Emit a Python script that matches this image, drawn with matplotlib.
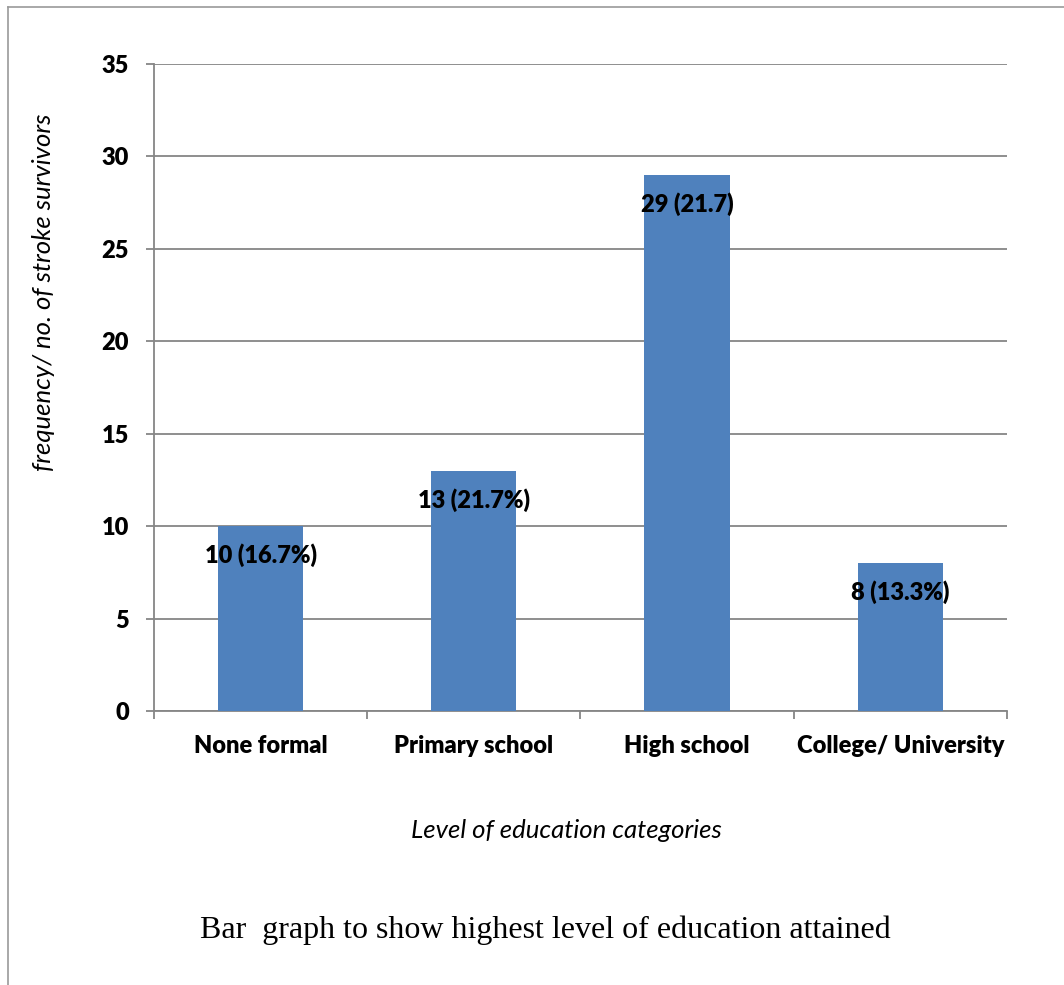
import matplotlib
matplotlib.use("Agg")
import matplotlib.pyplot as plt
from matplotlib.lines import Line2D

categories = ["None formal", "Primary school", "High school", "College/ University"]
counts = [10, 13, 29, 8]
bar_labels = ["10 (16.7%)", "13 (21.7%)", "29 (21.7)", "8 (13.3%)"]
yticks = [0, 5, 10, 15, 20, 25, 30, 35]

plt.rcParams['font.family'] = ['Lato', 'DejaVu Sans']

fig = plt.figure(figsize=(10.64, 9.85), dpi=100)
ax = fig.add_axes([0.1447, 0.2782, 0.8017, 0.6568])

x = range(len(categories))
ax.bar(x, counts, width=0.4, color='#4F81BD', zorder=3)

for xi, v, lab in zip(x, counts, bar_labels):
    ax.annotate(lab, (xi, v), xytext=(0, -21), textcoords='offset points',
                ha='center', va='center', fontsize=17, fontweight='heavy', zorder=4)

ax.set_xlim(-0.5, 3.5)
ax.set_ylim(0, 35)
ax.set_yticks(yticks)
ax.set_yticklabels([str(t) for t in yticks], fontsize=17, fontweight='heavy')
ax.set_xticks(list(x))
ax.set_xticklabels(categories, fontsize=17, fontweight='heavy')
ax.set_xticks([-0.5, 0.5, 1.5, 2.5, 3.5], minor=True)
ax.tick_params(axis='x', which='major', length=0, pad=17)
ax.tick_params(axis='x', which='minor', length=6, color='#868686', width=1.3)
ax.tick_params(axis='y', length=6, color='#868686', width=1.3, pad=12)

ax.yaxis.grid(True, color='#868686', lw=1.3, zorder=0)
for s in ['top', 'right']:
    ax.spines[s].set_visible(False)
for s in ['left', 'bottom']:
    ax.spines[s].set_color('#868686')
    ax.spines[s].set_linewidth(1.3)

fig.text(566 / 1064, 1 - 831 / 985, "Level of education categories", ha='center', va='center',
         fontsize=18.5, style='italic')
fig.text(44 / 1064, 1 - 292 / 985, "frequency/ no. of stroke survivors", ha='center', va='center',
         rotation=90, fontsize=18.5, style='italic')
fig.text(545 / 1064, 1 - 930 / 985, "Bar  graph to show highest level of education attained",
         ha='center', va='center', fontsize=23, family='Liberation Serif')

# outer frame (left and top edges visible)
fig.add_artist(Line2D([8 / 1064, 8 / 1064], [0, 1 - 7 / 985], color='#9a9a9a', lw=1.2,
                      transform=fig.transFigure))
fig.add_artist(Line2D([8 / 1064, 1], [1 - 7 / 985, 1 - 7 / 985], color='#9a9a9a', lw=1.2,
                      transform=fig.transFigure))

fig.savefig("out.png", dpi=100)
